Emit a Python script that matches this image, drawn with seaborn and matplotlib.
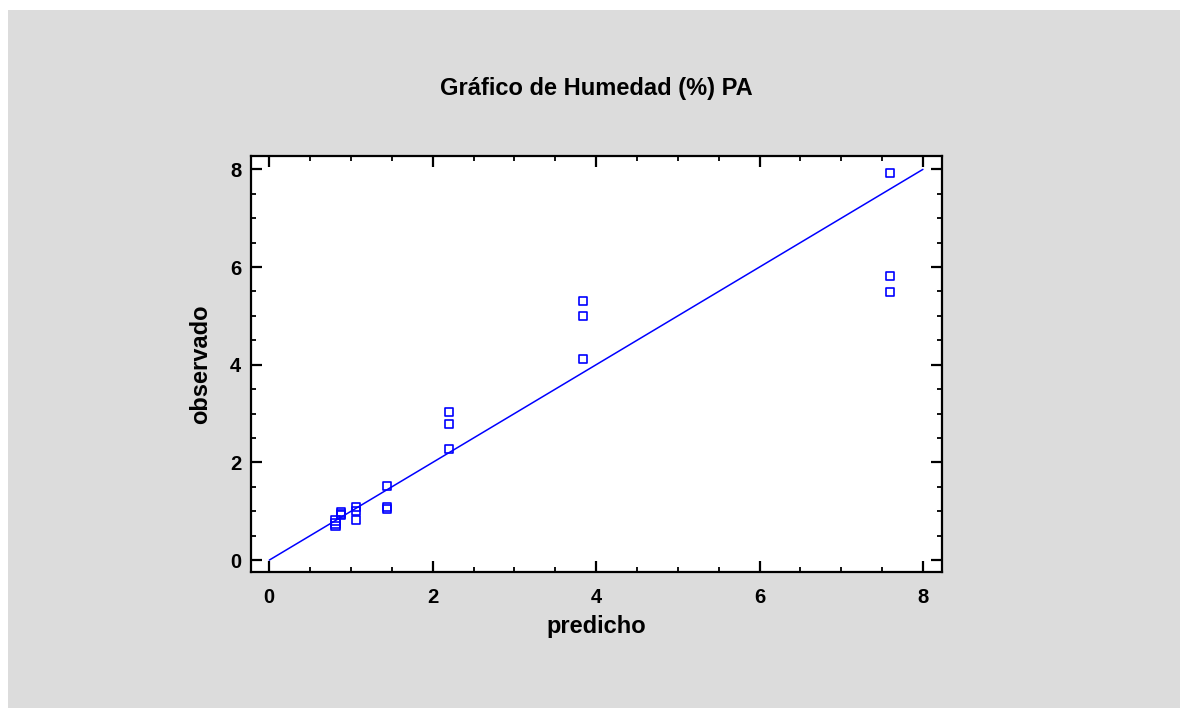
import matplotlib
matplotlib.use("Agg")
import matplotlib.pyplot as plt
import seaborn as sns
import pandas as pd
from matplotlib.ticker import MultipleLocator
from matplotlib.patches import Rectangle

# Data
predicho = [0.81, 0.81, 0.81, 0.88, 0.88, 0.88, 1.06, 1.06, 1.06,
            1.44, 1.44, 1.44, 2.20, 2.20, 2.20, 3.84, 3.84, 3.84,
            7.60, 7.60, 7.60]
observado = [0.81, 0.75, 0.70, 0.98, 0.95, 0.92, 1.09, 1.00, 0.83,
             1.51, 1.09, 1.05, 3.03, 2.79, 2.27, 5.31, 4.99, 4.12,
             7.92, 5.82, 5.49]
line_x = [0, 8]
line_y = [0, 8]
x_ticks = [0, 2, 4, 6, 8]
y_ticks = [0, 2, 4, 6, 8]
title = "Gráfico de Humedad (%) PA"
xlabel = "predicho"
ylabel = "observado"

sns.set_theme(style="white")
plt.rcParams['font.family'] = ['Liberation Sans', 'DejaVu Sans']
plt.rcParams['font.weight'] = 'bold'

W, H = 1180, 708
fig = plt.figure(figsize=(W / 100, H / 100), dpi=100, facecolor='white')
fig.patches.append(Rectangle((8 / W, 0), 1 - 8 / W, 1 - 10 / H,
                             transform=fig.transFigure, facecolor='#dcdcdc',
                             edgecolor='none', zorder=-10))

ax = fig.add_axes([251 / W, 1 - 572.3 / H, (941.7 - 251) / W, (572.3 - 155.7) / H])
ax.set_facecolor('white')

df = pd.DataFrame({"predicho": predicho, "observado": observado})
line_df = pd.DataFrame({"x": line_x, "y": line_y})

sns.lineplot(data=line_df, x="x", y="y", ax=ax, color='#0000ff', linewidth=1.1)
sns.scatterplot(data=df, x="predicho", y="observado", ax=ax, marker='s', s=34,
                facecolor='none', edgecolor='#0000ff', linewidth=1.2, zorder=3)

ax.set_xlim(-0.224, 8.23)
ax.set_ylim(-0.25, 8.28)
ax.set_xticks(x_ticks)
ax.set_yticks(y_ticks)
ax.set_xticklabels([str(v) for v in x_ticks])
ax.set_yticklabels([str(v) for v in y_ticks])
ax.xaxis.set_minor_locator(MultipleLocator(0.5))
ax.yaxis.set_minor_locator(MultipleLocator(0.5))

for s in ax.spines.values():
    s.set_visible(True)
    s.set_color('black')
    s.set_linewidth(1.6)

ax.tick_params(which='major', direction='in', length=8, width=1.6, color='black',
               top=True, right=True, bottom=True, left=True, labelsize=14.5,
               labelcolor='black')
ax.tick_params(which='minor', direction='in', length=3.5, width=1.3, color='black',
               top=True, right=True, bottom=True, left=True)
ax.tick_params(axis='x', which='major', pad=11)
ax.tick_params(axis='y', which='major', pad=7)
for lab in ax.get_xticklabels() + ax.get_yticklabels():
    lab.set_fontweight('bold')

ax.set_xlabel(xlabel, fontsize=17, fontweight='bold', color='black', labelpad=6)
ax.set_ylabel(ylabel, fontsize=17, fontweight='bold', color='black', labelpad=13)
fig.text((251 + 941.7) / 2 / W, 1 - 88 / H, title, ha='center', va='center',
         fontsize=17, fontweight='bold', color='black')

fig.savefig("out.png", dpi=100, facecolor=fig.get_facecolor())
